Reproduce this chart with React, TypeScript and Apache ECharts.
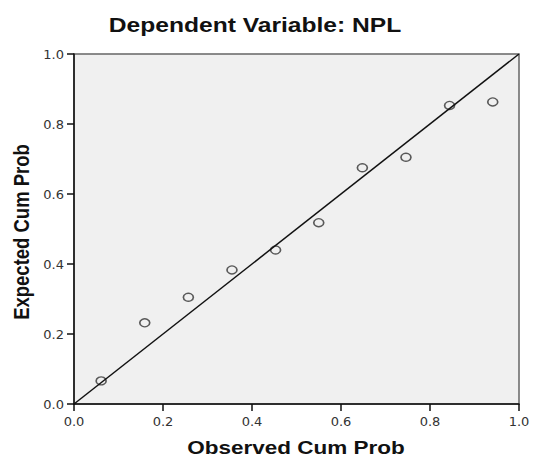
import React, { useEffect, useRef } from "react";
import * as echarts from "echarts";

const observedCumProb = [0.061, 0.159, 0.257, 0.355, 0.453, 0.55, 0.648, 0.746, 0.844, 0.941];
const expectedCumProb = [0.066, 0.232, 0.305, 0.383, 0.44, 0.518, 0.675, 0.705, 0.853, 0.863];
const referenceLine = [
  [0, 0],
  [1, 1],
];
const titleText = "Dependent Variable: NPL";
const xAxisTitle = "Observed Cum Prob";
const yAxisTitle = "Expected Cum Prob";

export default function App() {
  const ref = useRef<HTMLDivElement>(null);
  useEffect(() => {
    if (!ref.current) return;
    document.body.style.margin = "0";
    document.body.style.overflow = "hidden";
    const chart = echarts.init(ref.current, null, { renderer: "svg" });
    const points = observedCumProb.map((x, i) => [x, expectedCumProb[i]]);
    const tickLabel = {
      fontFamily: "DejaVu Sans",
      fontSize: 13,
      color: "#333",
      formatter: (v: number) => v.toFixed(1),
    };
    chart.setOption({
      animation: false,
      backgroundColor: "#ffffff",
      grid: {
        left: 74,
        top: 54,
        width: 445,
        height: 350,
        show: true,
        backgroundColor: "#f0f0f0",
        borderColor: "#666",
        borderWidth: 1.5,
      },
      xAxis: {
        type: "value",
        min: 0,
        max: 1,
        interval: 0.2,
        axisLine: { show: true, lineStyle: { color: "#111", width: 1.5 } },
        axisTick: { show: true, length: 7, lineStyle: { color: "#111", width: 1.5 } },
        axisLabel: { ...tickLabel, margin: 11 },
        splitLine: { show: false },
      },
      yAxis: {
        type: "value",
        min: 0,
        max: 1,
        interval: 0.2,
        axisLine: { show: true, lineStyle: { color: "#111", width: 1.5 } },
        axisTick: { show: true, length: 7, lineStyle: { color: "#111", width: 1.5 } },
        axisLabel: { ...tickLabel, margin: 10 },
        splitLine: { show: false },
      },
      series: [
        {
          type: "line",
          data: referenceLine,
          symbol: "none",
          lineStyle: { color: "#111", width: 1.5 },
          silent: true,
        },
        {
          type: "scatter",
          data: points,
          symbol: "circle",
          symbolSize: [10, 8],
          itemStyle: {
            color: "rgba(0,0,0,0)",
            borderColor: "#333",
            borderWidth: 1.5,
          },
        },
      ],
      graphic: [
        {
          type: "text",
          x: 255,
          y: 25,
          scaleX: 1.23,
          style: {
            text: titleText,
            fontFamily: "Liberation Sans",
            fontWeight: "bold",
            fontSize: 20,
            fill: "#111",
            textAlign: "center",
            textVerticalAlign: "middle",
          },
        },
        {
          type: "text",
          x: 296,
          y: 448,
          scaleX: 1.25,
          style: {
            text: xAxisTitle,
            fontFamily: "Liberation Sans",
            fontWeight: "bold",
            fontSize: 18,
            fill: "#111",
            textAlign: "center",
            textVerticalAlign: "middle",
          },
        },
        {
          type: "text",
          x: 21,
          y: 232,
          rotation: Math.PI / 2,
          scaleY: 1.2,
          style: {
            text: yAxisTitle,
            fontFamily: "Liberation Sans",
            fontWeight: "bold",
            fontSize: 18.5,
            fill: "#111",
            textAlign: "center",
            textVerticalAlign: "middle",
          },
        },
      ],
    });
    return () => chart.dispose();
  }, []);
  return (
    <div
      ref={ref}
      style={{ position: "fixed", left: 0, top: 0, width: 533, height: 462 }}
    />
  );
}
